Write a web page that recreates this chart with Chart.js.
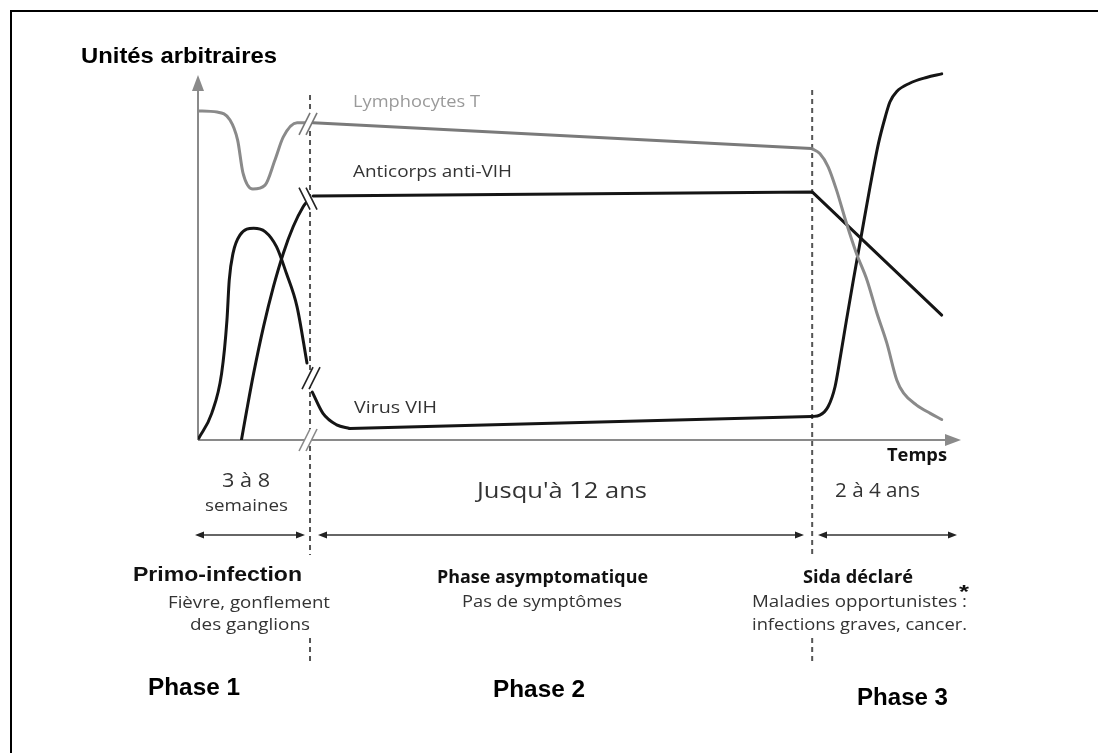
<!DOCTYPE html>
<html>
<head>
<meta charset="utf-8">
<script src="https://cdn.jsdelivr.net/npm/chart.js@4"></script>
<style>
  body { margin: 0; background: #fff; }
  #wrap { width: 1098px; height: 753px; position: relative; }
</style>
</head>
<body>
<div id="wrap"><canvas id="graphe"></canvas></div>
<script>
// DONNÉES (unités arbitraires, temps en unités relatives 0-100)
// Lymphocytes T
const lymphoP1X = [0, 2.5, 4.2, 5.2, 5.9, 7.2, 8.8, 10.1, 11.2, 13.0, 14.3];
const lymphoP1Y = [91.4, 91.1, 88.9, 83.3, 74.2, 69.7, 70.8, 77.8, 84.2, 88.1, 88.1];
const lymphoP2X = [15.1, 80.5];
const lymphoP2Y = [88.1, 81.0];
const lymphoP3X = [80.5, 81.6, 82.7, 83.8, 85.1, 86.4, 87.8, 89.1, 90.4, 91.7, 92.6, 94.3, 96.1, 97.6];
const lymphoP3Y = [81.0, 79.6, 75.9, 69.4, 60.2, 51.9, 44.4, 35.2, 26.9, 16.7, 13.0, 9.7, 7.4, 5.7];

// Anticorps anti-VIH
const anticorpsP1X = [5.7, 6.4, 7.3, 8.6, 9.9, 11.2, 12.5, 13.8, 14.3];
const anticorpsP1Y = [0, 8.3, 18.5, 31.5, 42.6, 51.9, 59.3, 64.8, 66.2];
const anticorpsP2X = [15.1, 80.6, 97.6];
const anticorpsP2Y = [67.8, 68.9, 34.7];

// Virus VIH
const virusP1X = [0.1, 1.8, 3.1, 3.8, 4.1, 4.6, 5.5, 7.3, 8.8, 10.3, 11.6, 13.0, 14.3, 14.7, 15.0, 16.4, 18.2, 19.9];
const virusP1Y = [0.5, 7.4, 18.5, 33.3, 44.4, 51.9, 56.9, 58.8, 57.9, 53.7, 46.3, 37.0, 21.4, null, 13.3, 7.4, 4.2, 3.2];
const virusP2X = [19.9, 80.5];
const virusP2Y = [3.2, 6.5];
const virusP3X = [80.5, 81.6, 82.7, 83.6, 84.3, 85.1, 86.0, 87.1, 88.2, 89.3, 90.2, 90.8, 91.7, 93.4, 95.6, 97.6];
const virusP3Y = [6.5, 6.9, 9.3, 14.8, 23.1, 33.3, 44.4, 57.4, 70.4, 82.4, 89.8, 93.9, 96.8, 99.1, 100.7, 101.7];

const series = ["Lymphocytes T", "Anticorps anti-VIH", "Virus VIH"];
const limitesPhases = [14.7, 80.6];   // fin phase 1, fin phase 2
const coupure = 14.7;                 // position des "//"
const durees = ["3 à 8", "semaines", "Jusqu'à 12 ans", "2 à 4 ans"];
const phases = ["Phase 1", "Phase 2", "Phase 3"];

const GRIS = "#8a8a8a";
const NOIR = "#151515";

function pts(xs, ys) {
    return xs.map((x, i) => ({ x: x, y: ys[i] }));
}

function trait(label, xs, ys, couleur, lisse) {
    return {
        label: label,
        data: pts(xs, ys),
        borderColor: couleur,
        borderWidth: 3,
        tension: 0,
        cubicInterpolationMode: lisse ? "monotone" : "default"
    };
}

// texte ajusté à une largeur donnée
function texte(ctx, t, x1, x2, y, font, color) {
    ctx.save();
    ctx.font = font;
    ctx.fillStyle = color;
    ctx.textBaseline = "alphabetic";
    const w = ctx.measureText(t).width;
    ctx.translate(x1, y);
    ctx.scale((x2 - x1) / w, 1);
    ctx.fillText(t, 0, 0);
    ctx.restore();
}

function fleche(ctx, x1, x2, y) {
    ctx.beginPath();
    ctx.moveTo(x1 + 6, y);
    ctx.lineTo(x2 - 6, y);
    ctx.stroke();
    ctx.beginPath();
    ctx.moveTo(x1, y); ctx.lineTo(x1 + 9, y - 3.5); ctx.lineTo(x1 + 9, y + 3.5); ctx.closePath();
    ctx.moveTo(x2, y); ctx.lineTo(x2 - 9, y - 3.5); ctx.lineTo(x2 - 9, y + 3.5); ctx.closePath();
    ctx.fill();
}

// coupure "//" ou "\\"
function marque(ctx, cx, cy, sens, color) {
    const dx = 5.5, dy = 11 * sens, ecart = 3.5;
    ctx.save();
    ctx.fillStyle = "#fff";
    ctx.beginPath();
    ctx.moveTo(cx - ecart - dx, cy + dy);
    ctx.lineTo(cx - ecart + dx, cy - dy);
    ctx.lineTo(cx + ecart + dx, cy - dy);
    ctx.lineTo(cx + ecart - dx, cy + dy);
    ctx.closePath();
    ctx.fill();
    ctx.strokeStyle = color;
    ctx.lineWidth = 1.6;
    [-ecart, ecart].forEach(o => {
        ctx.beginPath();
        ctx.moveTo(cx + o - dx, cy + dy);
        ctx.lineTo(cx + o + dx, cy - dy);
        ctx.stroke();
    });
    ctx.restore();
}

const decor = {
    id: "decor",
    beforeDatasetsDraw(chart) {
        const ctx = chart.ctx;
        const xs = chart.scales.x, ys = chart.scales.y;
        const x0 = xs.getPixelForValue(0), y0 = ys.getPixelForValue(0);

        ctx.save();
        // cadre
        ctx.strokeStyle = "#000";
        ctx.lineWidth = 2;
        ctx.beginPath();
        ctx.moveTo(11, 760); ctx.lineTo(11, 11); ctx.lineTo(1100, 11);
        ctx.stroke();

        // axes
        ctx.strokeStyle = GRIS;
        ctx.fillStyle = GRIS;
        ctx.lineWidth = 2;
        ctx.beginPath();
        ctx.moveTo(x0, y0); ctx.lineTo(x0, 88);
        ctx.moveTo(x0, y0); ctx.lineTo(948, y0);
        ctx.stroke();
        ctx.beginPath();
        ctx.moveTo(x0, 75); ctx.lineTo(x0 - 6, 91); ctx.lineTo(x0 + 6, 91); ctx.closePath();
        ctx.moveTo(961, y0); ctx.lineTo(945, y0 - 6); ctx.lineTo(945, y0 + 6); ctx.closePath();
        ctx.fill();

        // pointillés des phases
        ctx.strokeStyle = "#555";
        ctx.lineWidth = 2;
        ctx.setLineDash([5, 4]);
        limitesPhases.forEach((v, i) => {
            const px = xs.getPixelForValue(v);
            ctx.beginPath();
            ctx.moveTo(px, i === 0 ? 95 : 90);
            ctx.lineTo(px, 555);
            ctx.moveTo(px, 638);
            ctx.lineTo(px, 665);
            ctx.stroke();
        });
        ctx.setLineDash([]);
        ctx.restore();
    },
    afterDatasetsDraw(chart) {
        const ctx = chart.ctx;
        const xs = chart.scales.x, ys = chart.scales.y;
        const cx = xs.getPixelForValue(coupure);

        marque(ctx, cx - 2, ys.getPixelForValue(88.1) + 1, 1, "#777");
        marque(ctx, cx - 2, ys.getPixelForValue(67.3) + 1, -1, "#222");
        marque(ctx, cx + 1, ys.getPixelForValue(17.2), 1, "#222");
        marque(ctx, cx - 2, ys.getPixelForValue(0), 1, GRIS);

        ctx.save();
        const F = "'Open Sans', 'DejaVu Sans', sans-serif";
        const A = "'Liberation Sans', Arial, sans-serif";

        texte(ctx, "Unités arbitraires", 81, 277, 63, "bold 22px " + A, "#000");
        texte(ctx, series[0], 353, 480, 107, "16px " + F, "#9a9a9a");
        texte(ctx, series[1], 353, 512, 177, "16px " + F, "#333");
        texte(ctx, series[2], 354, 437, 413, "16px " + F, "#333");
        texte(ctx, "Temps", 887, 947, 461, "bold 17px " + F, "#111");

        texte(ctx, durees[0], 222, 270, 487, "20px " + F, "#333");
        texte(ctx, durees[1], 205, 288, 511, "17px " + F, "#333");
        texte(ctx, durees[2], 477, 647, 498, "22px " + F, "#333");
        texte(ctx, durees[3], 835, 920, 497, "20px " + F, "#333");

        ctx.strokeStyle = "#333";
        ctx.fillStyle = "#222";
        ctx.lineWidth = 1.3;
        fleche(ctx, 195, 305, 535);
        fleche(ctx, 318, 804, 535);
        fleche(ctx, 818, 957, 535);

        texte(ctx, "Primo-infection", 133, 302, 581, "bold 21px " + A, "#111");
        texte(ctx, "Fièvre, gonflement", 168, 330, 608, "16px " + F, "#333");
        texte(ctx, "des ganglions", 190, 310, 630, "16px " + F, "#333");

        texte(ctx, "Phase asymptomatique", 437, 648, 583, "bold 17px " + F, "#111");
        texte(ctx, "Pas de symptômes", 462, 622, 607, "16px " + F, "#333");

        texte(ctx, "Sida déclaré", 803, 913, 583, "bold 17px " + F, "#111");
        texte(ctx, "Maladies opportunistes :", 752, 967, 607, "16px " + F, "#333");
        texte(ctx, "infections graves, cancer.", 752, 967, 630, "16px " + F, "#333");
        texte(ctx, "*", 959, 969, 598, "bold 18px " + A, "#111");

        texte(ctx, phases[0], 148, 240, 695, "bold 24px " + A, "#000");
        texte(ctx, phases[1], 493, 585, 697, "bold 24px " + A, "#000");
        texte(ctx, phases[2], 857, 948, 705, "bold 24px " + A, "#000");
        ctx.restore();
    }
};

const chart = new Chart(document.getElementById("graphe"), {
    type: "line",
    data: {
        datasets: [
            trait(series[0], lymphoP1X, lymphoP1Y, GRIS, true),
            trait(series[0], lymphoP2X, lymphoP2Y, "#7a7a7a", false),
            trait(series[0], lymphoP3X, lymphoP3Y, GRIS, true),
            trait(series[1], anticorpsP1X, anticorpsP1Y, NOIR, true),
            trait(series[1], anticorpsP2X, anticorpsP2Y, NOIR, false),
            trait(series[2], virusP1X, virusP1Y, NOIR, true),
            trait(series[2], virusP2X, virusP2Y, NOIR, false),
            trait(series[2], virusP3X, virusP3Y, NOIR, true)
        ]
    },
    options: {
        responsive: true,
        maintainAspectRatio: false,
        animation: false,
        spanGaps: false,
        layout: { padding: { left: 198, right: 138, top: 62, bottom: 313 } },
        elements: {
            point: { radius: 0 },
            line: { borderCapStyle: "round", borderJoinStyle: "round" }
        },
        scales: {
            x: { type: "linear", min: 0, max: 100, display: false },
            y: { min: 0, max: 105, display: false }
        },
        plugins: {
            legend: { display: false },
            tooltip: { enabled: false }
        }
    },
    plugins: [decor]
});
</script>
</body>
</html>
